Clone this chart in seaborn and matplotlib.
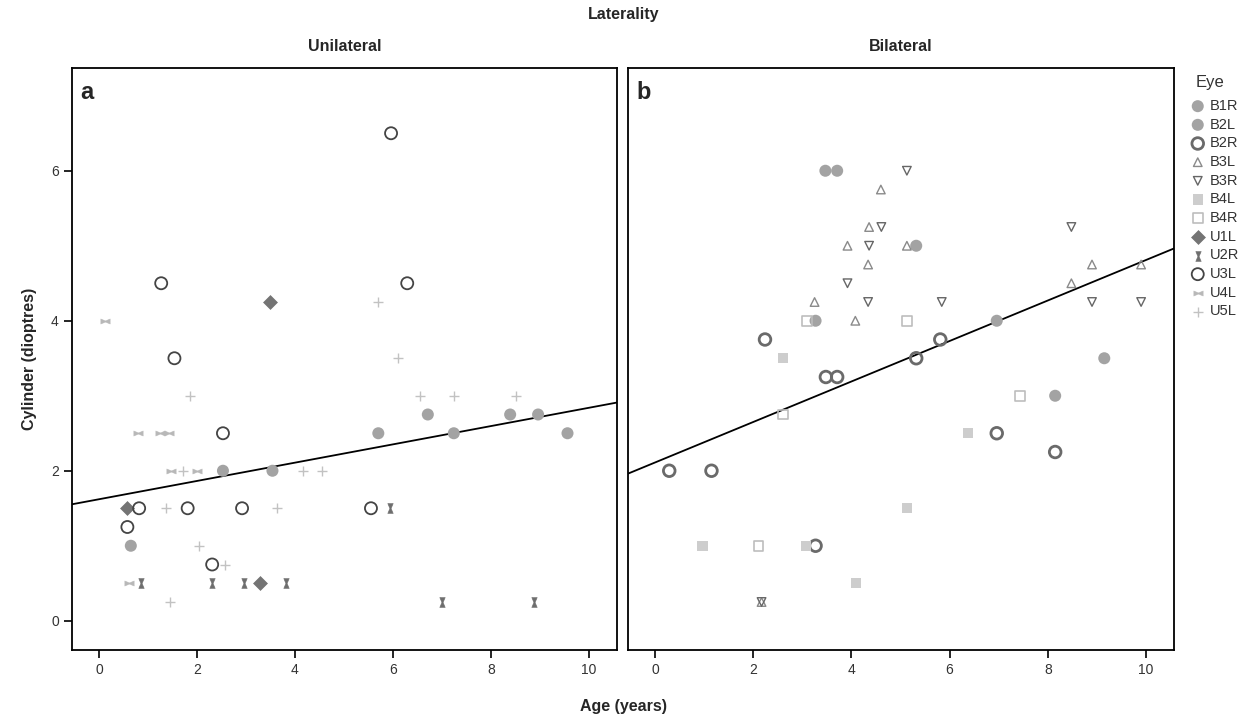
import matplotlib
matplotlib.use('Agg')
import matplotlib.pyplot as plt
from matplotlib.markers import MarkerStyle
import numpy as np
import pandas as pd
import seaborn as sns

# ---- values: age (years) / cylinder (dioptres) ----
eye_order = ['B1R', 'B2L', 'B2R', 'B3L', 'B3R', 'B4L', 'B4R',
             'U1L', 'U2R', 'U3L', 'U4L', 'U5L']

# Unilateral panel
uni_b1r_age = [0.65, 2.53, 3.54, 5.70, 6.71, 7.24, 8.39, 8.96, 9.56]
uni_b1r_cyl = [1.0, 2.0, 2.0, 2.5, 2.75, 2.5, 2.75, 2.75, 2.5]
u1l_age = [3.49, 0.58, 3.29]
u1l_cyl = [4.25, 1.5, 0.5]
u2r_age = [0.85, 2.31, 2.96, 3.81, 5.93, 6.99, 8.88]
u2r_cyl = [0.5, 0.5, 0.5, 0.5, 1.5, 0.25, 0.25]
u3l_age = [1.27, 1.54, 5.96, 6.29, 2.53, 0.82, 1.81, 2.92, 0.58, 2.31, 5.55]
u3l_cyl = [4.5, 3.5, 6.5, 4.5, 2.5, 1.5, 1.5, 1.5, 1.25, 0.75, 1.5]
u4l_age = [0.12, 0.79, 1.24, 1.43, 1.46, 2.00, 0.61]
u4l_cyl = [4.0, 2.5, 2.5, 2.5, 2.0, 2.0, 0.5]
u5l_age = [5.70, 6.10, 6.55, 7.24, 8.51, 1.86, 1.72, 4.17, 4.56,
           1.37, 3.63, 2.05, 2.58, 1.45]
u5l_cyl = [4.25, 3.5, 3.0, 3.0, 3.0, 3.0, 2.0, 2.0, 2.0,
           1.5, 1.5, 1.0, 0.75, 0.25]

# Bilateral panel
b1r_age = [3.47, 5.32, 6.96, 9.15]
b1r_cyl = [6.0, 5.0, 4.0, 3.5]
b2l_age = [3.71, 3.27, 8.15]
b2l_cyl = [6.0, 4.0, 3.0]
b2r_age = [2.24, 3.48, 3.71, 5.32, 5.81, 0.29, 1.15, 6.96, 8.15, 3.27]
b2r_cyl = [3.75, 3.25, 3.25, 3.5, 3.75, 2.0, 2.0, 2.5, 2.25, 1.0]
b3l_age = [4.60, 4.36, 3.92, 5.13, 4.34, 3.25, 4.08, 8.90, 9.90, 8.48, 2.17]
b3l_cyl = [5.75, 5.25, 5.0, 5.0, 4.75, 4.25, 4.0, 4.75, 4.75, 4.5, 0.25]
b3r_age = [5.13, 4.61, 4.36, 3.92, 4.34, 8.48, 5.84, 8.90, 9.90, 2.17]
b3r_cyl = [6.0, 5.25, 5.0, 4.5, 4.25, 5.25, 4.25, 4.25, 4.25, 0.25]
b4l_age = [2.61, 6.37, 5.13, 0.97, 3.08, 4.10]
b4l_cyl = [3.5, 2.5, 1.5, 1.0, 1.0, 0.5]
b4r_age = [3.10, 5.13, 7.43, 2.61, 2.11]
b4r_cyl = [4.0, 4.0, 3.0, 2.75, 1.0]

# fitted lines as drawn in the figure (intercept, slope)
fit_unilateral = (1.62, 0.122)
fit_bilateral = (2.11, 0.270)


def rows(lat, eye, age, cyl):
    return pd.DataFrame({'Laterality': lat, 'Eye': eye,
                         'Age': age, 'Cylinder': cyl})


df = pd.concat([
    rows('Unilateral', 'B1R', uni_b1r_age, uni_b1r_cyl),
    rows('Unilateral', 'U1L', u1l_age, u1l_cyl),
    rows('Unilateral', 'U2R', u2r_age, u2r_cyl),
    rows('Unilateral', 'U3L', u3l_age, u3l_cyl),
    rows('Unilateral', 'U4L', u4l_age, u4l_cyl),
    rows('Unilateral', 'U5L', u5l_age, u5l_cyl),
    rows('Bilateral', 'B1R', b1r_age, b1r_cyl),
    rows('Bilateral', 'B2L', b2l_age, b2l_cyl),
    rows('Bilateral', 'B2R', b2r_age, b2r_cyl),
    rows('Bilateral', 'B3L', b3l_age, b3l_cyl),
    rows('Bilateral', 'B3R', b3r_age, b3r_cyl),
    rows('Bilateral', 'B4L', b4l_age, b4l_cyl),
    rows('Bilateral', 'B4R', b4r_age, b4r_cyl),
], ignore_index=True)

# marker styles for each eye
hourglass = [(-0.55, 1), (0.55, 1), (0.12, 0), (0.55, -1),
             (-0.55, -1), (-0.12, 0), (-0.55, 1)]
bowtie = [(y, x) for x, y in hourglass]
hollow = lambda m: MarkerStyle(m, fillstyle='none')

styles = {
    'B1R': dict(marker='o', s=75, color='#a3a3a3', edgecolor='none'),
    'B2L': dict(marker='o', s=75, color='#a3a3a3', edgecolor='none'),
    'B2R': dict(marker=hollow('o'), s=70, color='#6a6a6a', linewidth=2.0),
    'B3L': dict(marker=hollow('^'), s=38, color='#8a8a8a', linewidth=1.0),
    'B3R': dict(marker=hollow('v'), s=38, color='#666666', linewidth=1.0),
    'B4L': dict(marker='s', s=55, color='#cdcdcd', edgecolor='none'),
    'B4R': dict(marker=hollow('s'), s=48, color='#bdbdbd', linewidth=1.2),
    'U1L': dict(marker='D', s=50, color='#747474', edgecolor='#747474', linewidth=0.5),
    'U2R': dict(marker=hourglass, s=50, color='#6e6e6e', edgecolor='#6e6e6e', linewidth=0.4),
    'U3L': dict(marker=hollow('o'), s=75, color='#444444', linewidth=1.3),
    'U4L': dict(marker=bowtie, s=45, color='#b8b8b8', edgecolor='#b8b8b8', linewidth=0.3),
    'U5L': dict(marker='+', s=55, color='#c2c2c2', linewidth=1.0),
}

sns.set_theme(style='ticks')
plt.rcParams['font.family'] = ['Liberation Sans', 'DejaVu Sans']

W, H = 1248, 720
fig = plt.figure(figsize=(W / 100, H / 100), dpi=100)
ax_l = fig.add_axes([72 / W, 1 - 650 / H, 545 / W, 582 / H])
ax_r = fig.add_axes([628 / W, 1 - 650 / H, 546 / W, 582 / H])

panels = [(ax_l, 'Unilateral', 'a', fit_unilateral),
          (ax_r, 'Bilateral', 'b', fit_bilateral)]
for ax, lat, tag, (b0, b1) in panels:
    sub = df[df['Laterality'] == lat]
    ax.axline((0, b0), slope=b1, color='black', lw=1.3, zorder=1)
    for eye in eye_order:
        pts = sub[sub['Eye'] == eye]
        if len(pts) == 0:
            continue
        sns.scatterplot(data=pts, x='Age', y='Cylinder', label=eye,
                        ax=ax, legend=False, zorder=2, **styles[eye])
    ax.set_xlim(-0.55, 10.57)
    ax.set_ylim(-0.39, 7.37)
    ax.set_xticks([0, 2, 4, 6, 8, 10])
    ax.set_yticks([0, 2, 4, 6])
    ax.set_xlabel('')
    ax.set_ylabel('')
    ax.set_title(lat, fontsize=11.5, fontweight='bold', pad=12)
    ax.text(0.016, 0.978, tag, transform=ax.transAxes, fontsize=17,
            fontweight='bold', va='top', ha='left')
    for sp in ax.spines.values():
        sp.set_color('black')
        sp.set_linewidth(1.3)
    ax.tick_params(direction='out', length=6, width=1.2, color='black',
                   labelsize=10, labelcolor='#333333')
    if ax.get_legend() is not None:
        ax.get_legend().remove()

ax_r.tick_params(axis='y', left=False, labelleft=False)

# one legend for both panels
handles, labels = [], []
for ax in (ax_l, ax_r):
    h, l = ax.get_legend_handles_labels()
    for hh, ll in zip(h, l):
        if ll in eye_order and ll not in labels:
            handles.append(hh)
            labels.append(ll)
order = sorted(range(len(labels)), key=lambda i: eye_order.index(labels[i]))
handles = [handles[i] for i in order]
labels = [labels[i] for i in order]
fig.legend(handles, labels, loc='upper left',
           bbox_to_anchor=(1189 / W, 1 - 99 / H), frameon=False,
           fontsize=10.5, handletextpad=0.2, borderpad=0,
           labelspacing=0.32, borderaxespad=0, handlelength=1.2,
           labelcolor='#333333')
fig.text(1210 / W, 1 - 82 / H, 'Eye', ha='center', va='center',
         fontsize=12, color='#333333')

fig.text(0.5, 1 - 15 / H, 'Laterality', ha='center', va='center',
         fontsize=11.5, fontweight='bold')
fig.text(0.5, 1 - 706 / H, 'Age (years)', ha='center', va='center',
         fontsize=11.5, fontweight='bold')
fig.text(30 / W, 1 - 359 / H, 'Cylinder (dioptres)', ha='center',
         va='center', rotation=90, fontsize=11.5, fontweight='bold')

fig.savefig('out.png', dpi=100)
